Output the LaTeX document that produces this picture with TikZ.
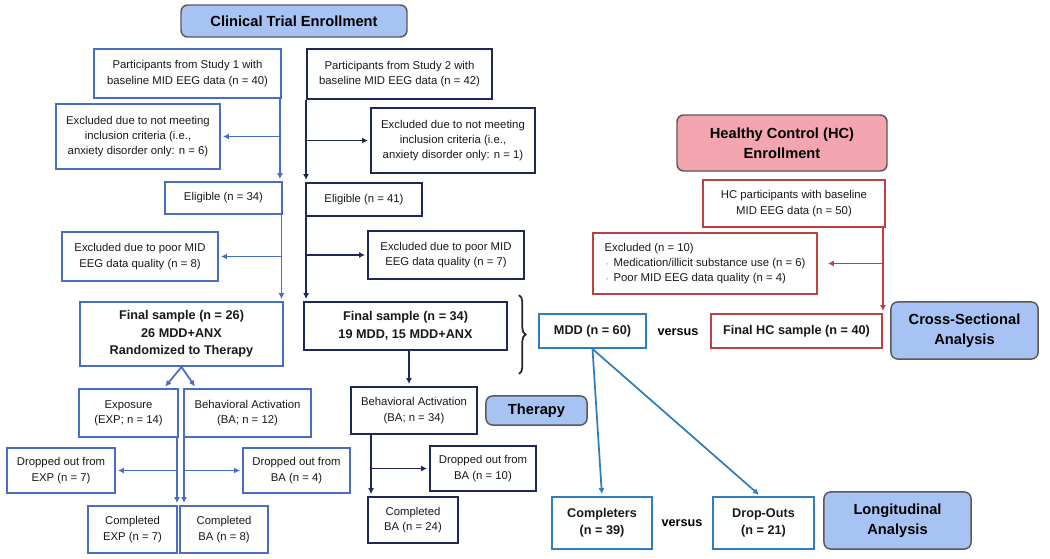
\documentclass[tikz,border=0pt]{standalone}
\usepackage{fontspec}
\setmainfont{Liberation Sans}
\usepackage{tikz}
\usetikzlibrary{%
arrows.meta,%
calc,%
decorations.pathreplacing}

\definecolor{trialblue}{RGB}{72,110,196}
\definecolor{trialnavy}{RGB}{31,40,90}
\definecolor{mddblue}{RGB}{46,125,190}
\definecolor{hcred}{RGB}{192,64,64}
\definecolor{lblfill}{RGB}{166,195,243}
\definecolor{lblpink}{RGB}{243,166,175}

\newcommand{\hcbullet}{\hspace*{1pt}{\color{black!25}\tiny\textbullet}\hspace{4pt}}

\tikzset{
  lbl/.style={draw=black!65, fill=lblfill, rounded corners=5pt, line width=1.1pt,
    align=center, font=\bfseries\fontsize{11}{15}\selectfont},
  flowbox/.style={draw, fill=white, line width=1.4pt, align=center, inner sep=2pt,
    text=black!90, font=\fontsize{8.5}{11.5}\selectfont},
  boldbox/.style={flowbox, font=\bfseries\fontsize{9.5}{13}\selectfont},
  flow/.style={line width=1.3pt, -{Latex[length=4.5pt,width=4.5pt]}, shorten >=1.5pt},
  vs/.style={font=\bfseries\fontsize{9.5}{12}\selectfont},
}

\begin{document}
\begin{tikzpicture}[x=0.75pt,y=-0.75pt]
\useasboundingbox (0,0) rectangle (1050,558);

% labels
\node[lbl, minimum width=169.5pt, minimum height=24pt] (trial) at (294,21) {Clinical Trial Enrollment};
\node[lbl, fill=lblpink, minimum width=157.5pt, minimum height=42pt] (hctitle) at (782,143) {Healthy Control (HC)\\Enrollment};
\node[lbl, minimum width=75.8pt, minimum height=21.8pt] (therapy) at (536.5,410.5) {Therapy};
\node[lbl, minimum width=110.3pt, minimum height=42.8pt] (cross) at (964.5,330.5) {Cross-Sectional\\Analysis};
\node[lbl, minimum width=110.3pt, minimum height=42.8pt] (long) at (897.5,520.5) {Longitudinal\\Analysis};

% study 1
\begin{scope}[every node/.append style={draw=trialblue}]
\node[flowbox, minimum width=140.3pt, minimum height=36.8pt] (s1) at (187.5,73.5) {Participants from Study 1 with\\baseline MID EEG data (n = 40)};
\node[flowbox, minimum width=123pt, minimum height=48.8pt] (ex1) at (138,136.5) {Excluded due to not meeting\\inclusion criteria (i.e.,\\anxiety disorder only: n = 6)};
\node[flowbox, minimum width=87.8pt, minimum height=24pt] (el1) at (223.5,198) {Eligible (n = 34)};
\node[flowbox, minimum width=117pt, minimum height=36.8pt] (exq1) at (140,256.5) {Excluded due to poor MID\\EEG data quality (n = 8)};
\node[boldbox, minimum width=152.3pt, minimum height=48pt] (fin1) at (181.5,334) {Final sample (n = 26)\\26 MDD+ANX\\Randomized to Therapy};
\node[flowbox, minimum width=74.3pt, minimum height=36pt] (expo) at (128.5,413) {Exposure\\(EXP; n = 14)};
\node[flowbox, minimum width=95.3pt, minimum height=36pt] (ba1) at (247.5,413) {Behavioral Activation\\(BA; n = 12)};
\node[flowbox, minimum width=81pt, minimum height=33.8pt] (dexp) at (61,470.5) {Dropped out from\\EXP (n = 7)};
\node[flowbox, minimum width=80.3pt, minimum height=33.8pt] (dba1) at (296.5,470.5) {Dropped out from\\BA (n = 4)};
\node[flowbox, minimum width=66.8pt, minimum height=35.3pt] (cexp) at (132.5,529.5) {Completed\\EXP (n = 7)};
\node[flowbox, minimum width=66pt, minimum height=35.3pt] (cba1) at (224,529.5) {Completed\\BA (n = 8)};
\end{scope}

\begin{scope}[trialblue]
\coordinate (a1) at ($(s1.south east)+(-2,0)$);
\draw[flow] (a1) -- (a1 |- el1.north);
\draw[flow] (a1 |- ex1.east) -- (ex1.east);
\coordinate (b1) at ($(el1.south east)+(-1.5,0)$);
\draw[flow] (b1) -- (b1 |- fin1.north);
\draw[flow] (b1 |- exq1.east) -- (exq1.east);
\draw[flow] (fin1.south) -- ($(expo.north east)+(-15,0)$);
\draw[flow] (fin1.south) -- ($(ba1.north west)+(13,0)$);
\coordinate (c1) at ($(expo.south east)+(-2,0)$);
\draw[flow] (c1) -- (c1 |- cexp.north);
\draw[flow] (c1 |- dexp.east) -- (dexp.east);
\coordinate (d1) at ($(ba1.south west)+(1,0)$);
\draw[flow] (d1) -- (d1 |- cba1.north);
\draw[flow] (d1 |- dba1.west) -- (dba1.west);
\end{scope}

% study 2
\begin{scope}[every node/.append style={draw=trialnavy}]
\node[flowbox, minimum width=138.8pt, minimum height=37.5pt] (s2) at (399.5,74) {Participants from Study 2 with\\baseline MID EEG data (n = 42)};
\node[flowbox, minimum width=123pt, minimum height=48.8pt] (ex2) at (453,140.5) {Excluded due to not meeting\\inclusion criteria (i.e.,\\anxiety disorder only: n = 1)};
\node[flowbox, minimum width=87pt, minimum height=24.8pt] (el2) at (364,199.5) {Eligible (n = 41)};
\node[flowbox, minimum width=117pt, minimum height=36pt] (exq2) at (446,255) {Excluded due to poor MID\\EEG data quality (n = 7)};
\node[boldbox, minimum width=152.3pt, minimum height=36pt] (fin2) at (405.5,326) {Final sample (n = 34)\\19 MDD, 15 MDD+ANX};
\node[flowbox, minimum width=94.5pt, minimum height=35.3pt] (ba2) at (414,410.5) {Behavioral Activation\\(BA; n = 34)};
\node[flowbox, minimum width=79.5pt, minimum height=33.8pt] (dba2) at (483,468.5) {Dropped out from\\BA (n = 10)};
\node[flowbox, minimum width=67.5pt, minimum height=34.5pt] (cba2) at (413,520) {Completed\\BA (n = 24)};
\end{scope}

\begin{scope}[trialnavy]
\coordinate (a2) at (s2.south west);
\draw[flow] (a2) -- (a2 |- el2.north);
\draw[flow] (a2 |- ex2.west) -- (ex2.west);
\coordinate (b2) at ($(el2.south west)+(1,0)$);
\draw[flow] (b2) -- (b2 |- fin2.north);
\draw[flow] (b2 |- exq2.west) -- (exq2.west);
\coordinate (c2) at ($(fin2.south)+(3.5,0)$);
\draw[flow] (c2) -- (c2 |- ba2.north);
\coordinate (d2) at ($(ba2.south west)+(21,0)$);
\draw[flow] (d2) -- (d2 |- cba2.north);
\draw[flow] (d2 |- dba2.west) -- (dba2.west);
\end{scope}

% brace round the two final samples
\draw[decorate, decoration={brace, amplitude=5pt}, line width=1.3pt, black!85]
  ($(fin2.north east)+(11,-6)$) -- ($(fin2.south east)+(11,23)$);

% healthy controls
\begin{scope}[every node/.append style={draw=hcred}]
\node[flowbox, minimum width=136.5pt, minimum height=35.3pt] (hcp) at (794,203.5) {HC participants with baseline\\MID EEG data (n = 50)};
\node[flowbox, align=left, minimum width=168pt, minimum height=45.8pt] (hcx) at (705,263.5) {Excluded (n = 10)\\\hcbullet Medication/illicit substance use (n = 6)\\\hcbullet Poor MID EEG data quality (n = 4)};
\node[boldbox, minimum width=128.3pt, minimum height=25.5pt] (hcf) at (796.5,331) {Final HC sample (n = 40)};
\end{scope}

\begin{scope}[hcred]
\coordinate (h1) at ($(hcp.south east)+(-3,0)$);
\draw[flow] (h1) -- (h1 |- hcf.north);
\draw[flow] (h1 |- hcx.east) -- ($(hcx.east)+(8,0)$);
\end{scope}

% analyses
\begin{scope}[every node/.append style={draw=mddblue}]
\node[boldbox, minimum width=80.3pt, minimum height=25.5pt] (mdd) at (592.5,331) {MDD (n = 60)};
\node[boldbox, minimum width=75pt, minimum height=39pt] (comp) at (602,523) {Completers\\(n = 39)};
\node[boldbox, minimum width=75.8pt, minimum height=39pt] (drop) at (763.5,523) {Drop-Outs\\(n = 21)};
\end{scope}
\node[vs] (vs1) at (678,332) {versus};
\node[vs] (vs2) at (682,523) {versus};

\begin{scope}[mddblue]
\draw[flow] (mdd.south) -- (comp.north);
\draw[flow] (mdd.south) -- ($(drop.north)+(-3,0)$);
\end{scope}
\end{tikzpicture}
\end{document}
